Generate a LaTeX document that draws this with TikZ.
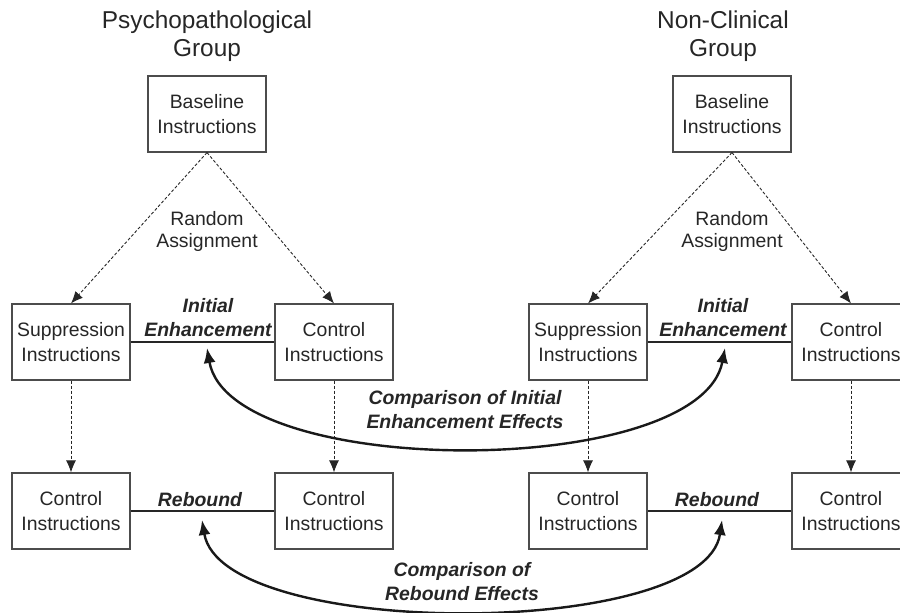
\documentclass[tikz,border=0pt]{standalone}
\usepackage{fontspec}
\setmainfont{Liberation Sans}
\usetikzlibrary{arrows.meta}
\begin{document}
\begin{tikzpicture}[x=1pt,y=1pt,
		box/.style={draw=black!70,line width=1.1pt,minimum width=118pt,minimum height=76pt,inner sep=0pt,align=center,text=black!85,font=\fontsize{19.4}{24.5}\selectfont},
		title/.style={align=center,text=black!85,font=\fontsize{24.4}{28.5}\selectfont},
		plain/.style={align=center,text=black!85,font=\fontsize{19.4}{22}\selectfont},
		lbl/.style={align=center,text=black!85,font=\bfseries\itshape\fontsize{19.4}{24}\selectfont},
		dasharrow/.style={-{Latex[length=12pt,width=10pt]},line width=0.9pt,dash pattern=on 3pt off 2pt,black!85},
		bigarrow/.style={{Latex[length=15pt,width=12pt]}-{Latex[length=15pt,width=12pt]},line width=2.4pt,black!90}]
	\useasboundingbox (0,0) rectangle (900,613);
	% left group
	\node[title] (T1) at (207,577) {Psychopathological\\Group};
	\node[box] (B1) at (207,499) {Baseline\\Instructions};
	\node[plain] (A1) at (207,382) {Random\\Assignment};
	\node[box] (S1) at (71,271) {Suppression\\Instructions};
	\node[box] (C1) at (334,271) {Control\\Instructions};
	\node[box] (P1) at (71,102) {Control\\Instructions};
	\node[box] (Q1) at (334,102) {Control\\Instructions};
	% right group
	\node[title] (T2) at (723,577) {Non-Clinical\\Group};
	\node[box] (B2) at (732,499) {Baseline\\Instructions};
	\node[plain] (A2) at (732,382) {Random\\Assignment};
	\node[box] (S2) at (588,271) {Suppression\\Instructions};
	\node[box] (C2) at (851,271) {Control\\Instructions};
	\node[box] (P2) at (588,102) {Control\\Instructions};
	\node[box] (Q2) at (851,102) {Control\\Instructions};
	% labels
	\node[lbl] (E1) at (208,295.5) {Initial\\Enhancement};
	\node[lbl] (E2) at (723,295.5) {Initial\\Enhancement};
	\node[lbl] (R1) at (200,113) {Rebound};
	\node[lbl] (R2) at (717,113) {Rebound};
	\node[lbl] (X1) at (465,203) {Comparison of Initial\\Enhancement Effects};
	\node[lbl] (X2) at (462,31.5) {Comparison of\\Rebound Effects};
	% tips of the comparison arrows
	\coordinate (U1) at (207,265);
	\coordinate (U2) at (725,265);
	\coordinate (V1) at (202,93);
	\coordinate (V2) at (722,93);
	% connectors
	\foreach \g in {1,2}{
		\draw[dasharrow] (B\g.south) -- (S\g.north);
		\draw[dasharrow] (B\g.south) -- (C\g.north);
		\draw[dasharrow] (S\g.south) -- (P\g.north);
		\draw[dasharrow] (C\g.south) -- (Q\g.north);
		\draw[line width=2.4pt,black!85] (S\g.east) -- (C\g.west);
		\draw[line width=1.3pt,black!85] (P\g.east) -- (Q\g.west);
	}
	\draw[bigarrow] (U1) .. controls (230,133) and (700,133) .. (U2);
	\draw[bigarrow] (V1) .. controls (222,-27) and (705,-27) .. (V2);
\end{tikzpicture}
\end{document}
